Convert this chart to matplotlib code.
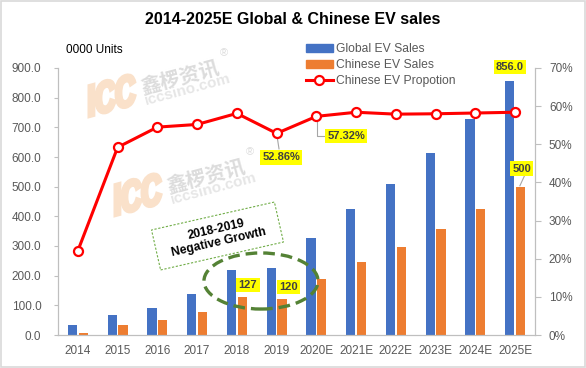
import numpy as np
import matplotlib.pyplot as plt
from matplotlib.patches import Ellipse, Rectangle, Patch, PathPatch
from matplotlib.lines import Line2D
from matplotlib.transforms import Affine2D
from matplotlib.textpath import TextPath
from matplotlib.font_manager import FontProperties

plt.rcParams['font.family'] = ['Liberation Sans', 'DejaVu Sans']

# data
years = ['2014', '2015', '2016', '2017', '2018', '2019',
         '2020E', '2021E', '2022E', '2023E', '2024E', '2025E']
global_sales = [34, 67, 92, 139, 219, 227, 327, 425, 509, 613, 728, 856]
china_sales = [8, 34, 51, 79, 127, 120, 189, 246, 297, 357, 425, 500]
china_share = [0.221, 0.492, 0.545, 0.552, 0.581, 0.5286, 0.5732,
               0.584, 0.579, 0.580, 0.582, 0.584]
left_ticks = [0, 100, 200, 300, 400, 500, 600, 700, 800, 900]
right_ticks = [0, 0.1, 0.2, 0.3, 0.4, 0.5, 0.6, 0.7]

blue = '#4472C4'
orange = '#ED7D31'
red = '#FF0000'
gray = '#595959'
axcol = '#BFBFBF'
green = '#548235'
yellow = '#FFFF00'

W, H = 586, 368
fig = plt.figure(figsize=(W / 100, H / 100), dpi=100)
fig.patches.append(Rectangle((0.001, 0.002), 0.997, 0.995, transform=fig.transFigure,
                             fill=False, ec='#D9D9D9', lw=1.2))

def px(x, y):
    return x / W, 1 - y / H

# watermarks (x, y = centre of the ICC letters, in image pixels)
icc_path = TextPath((0, 0), 'ICC', size=44, prop=FontProperties(family='Liberation Sans', weight='bold'))
bb = icc_path.get_extents()

def watermark(x, y):
    t = (Affine2D().translate(-(bb.x0 + bb.x1) / 2, -(bb.y0 + bb.y1) / 2)
         .scale(0.63, 1).skew_deg(0, 15).translate(x, H - y).scale(1 / 100)
         + fig.dpi_scale_trans)
    fig.patches.append(PathPatch(icc_path, transform=t, fc='#FAE1CA', ec='#FAE1CA',
                                 lw=2.8, joinstyle='miter', zorder=0))
    fig.text(*px(x + 68, y - 18), '鑫椤资讯', fontsize=14.5, fontweight='bold',
             family=['Noto Sans CJK SC', 'DejaVu Sans'],
             color='#DCDCDC', rotation=15, ha='center', va='center', zorder=0)
    fig.text(*px(x + 76, y - 5), 'iccsino.com', fontsize=11, fontweight='bold',
             color='#E6E6E6', rotation=15, ha='center', va='center', zorder=0)
    fig.text(*px(x + 112, y - 42), '®', fontsize=8, color='#DCDCDC',
             ha='center', va='center', zorder=0)

watermark(112, 95)
watermark(138, 194)

ax = fig.add_axes([58 / W, 33 / H, 477 / W, 267 / H])
ax.patch.set_alpha(0)
ax2 = ax.twinx()

x = np.arange(len(years))
bw = 0.23
off = 0.135
ax.bar(x - off, global_sales, bw, color=blue, zorder=2)
ax.bar(x + off, china_sales, bw, color=orange, zorder=2)
ax2.plot(x, china_share, color=red, lw=2.2, marker='o', ms=6.5, mfc='white',
         mec=red, mew=1.6, zorder=3)

ax.set_xlim(-0.5, len(years) - 0.5)
ax.set_ylim(0, 900)
ax2.set_ylim(0, 0.7)
ax.set_xticks(x)
ax.set_xticklabels(years)
ax.set_yticks(left_ticks)
ax.set_yticklabels([f'{v:.1f}' for v in left_ticks])
ax2.set_yticks(right_ticks)
ax2.set_yticklabels([f'{v:.0%}' for v in right_ticks])

for a in (ax, ax2):
    for s in a.spines.values():
        s.set_color(axcol)
    a.spines['top'].set_visible(False)
ax.tick_params(axis='x', length=0, pad=7, labelsize=8.5, labelcolor=gray)
ax.tick_params(axis='y', length=3, color=axcol, pad=9, labelsize=8.5, labelcolor=gray)
ax2.tick_params(axis='y', length=4, color=axcol, pad=6, labelsize=8.5, labelcolor=gray)

fig.text(0.5, 1 - 20 / H, '2014-2025E Global & Chinese EV sales', ha='center', va='center',
         fontsize=11.5, fontweight='bold')
fig.text(*px(66, 50), '0000 Units', fontsize=8.5, ha='left', va='center')

handles = [Patch(color=blue), Patch(color=orange),
           Line2D([], [], color=red, lw=2.2, marker='o', ms=6.5, mfc='white', mec=red, mew=1.6)]
fig.legend(handles, ['Global EV Sales', 'Chinese EV Sales', 'Chinese EV Propotion'],
           loc='upper left', bbox_to_anchor=px(306, 43.5), frameon=False, fontsize=8.7,
           handlelength=2.2, handleheight=0.6, handletextpad=0.3, labelspacing=0.32,
           borderpad=0, borderaxespad=0, labelcolor=gray)

box = dict(boxstyle='square,pad=0.2', fc=yellow, ec='none')
lab = dict(fontsize=8, fontweight='bold', color='#404040', ha='center', va='center', bbox=box)
ax.text(11 - off, 903, '856.0', clip_on=False, zorder=5, **lab)
ax.text(11.17, 561, '500', zorder=5, **lab)
ax.plot([11.24, 11.12], [538, 503], color='#A6A6A6', lw=0.8, zorder=4)
ax.text(4.28, 168, '127', zorder=5, **lab)
ax.text(5.29, 162, '120', zorder=5, **lab)
ax2.text(5.11, 0.4654, '52.86%', zorder=5, **lab)
ax2.plot([5.0, 5.06], [0.5286, 0.488], color='#A6A6A6', lw=0.8, zorder=2)
ax2.text(6.75, 0.5218, '57.32%', zorder=5, **lab)
ax2.plot([6.02, 6.02, 6.2], [0.5732, 0.5218, 0.5218], color='#A6A6A6', lw=0.8, zorder=2)

ax.add_patch(Ellipse((4.607, 182), 2.87, 189, fill=False, ec=green, lw=2.4,
                     ls=(0, (3.5, 1.8)), zorder=4))

# rotated dashed note box, sized in image pixels
cx, cy, ang = 217.5, 236, 12.8
rot = Affine2D().rotate_deg_around(cx, H - cy, ang).scale(1 / 100) + fig.dpi_scale_trans
fig.patches.append(Rectangle((cx - 63, H - cy - 20.5), 126, 41, transform=rot,
                             fc='white', ec='#70AD47', lw=0.8, ls=(0, (2, 1.5)), zorder=3))
fig.text(*px(cx, cy), '2018-2019\nNegative Growth', rotation=ang, ha='center', va='center',
         ma='center', fontsize=8.7, fontweight='bold', linespacing=1.1, zorder=4)

fig.savefig('out.png', dpi=100)
